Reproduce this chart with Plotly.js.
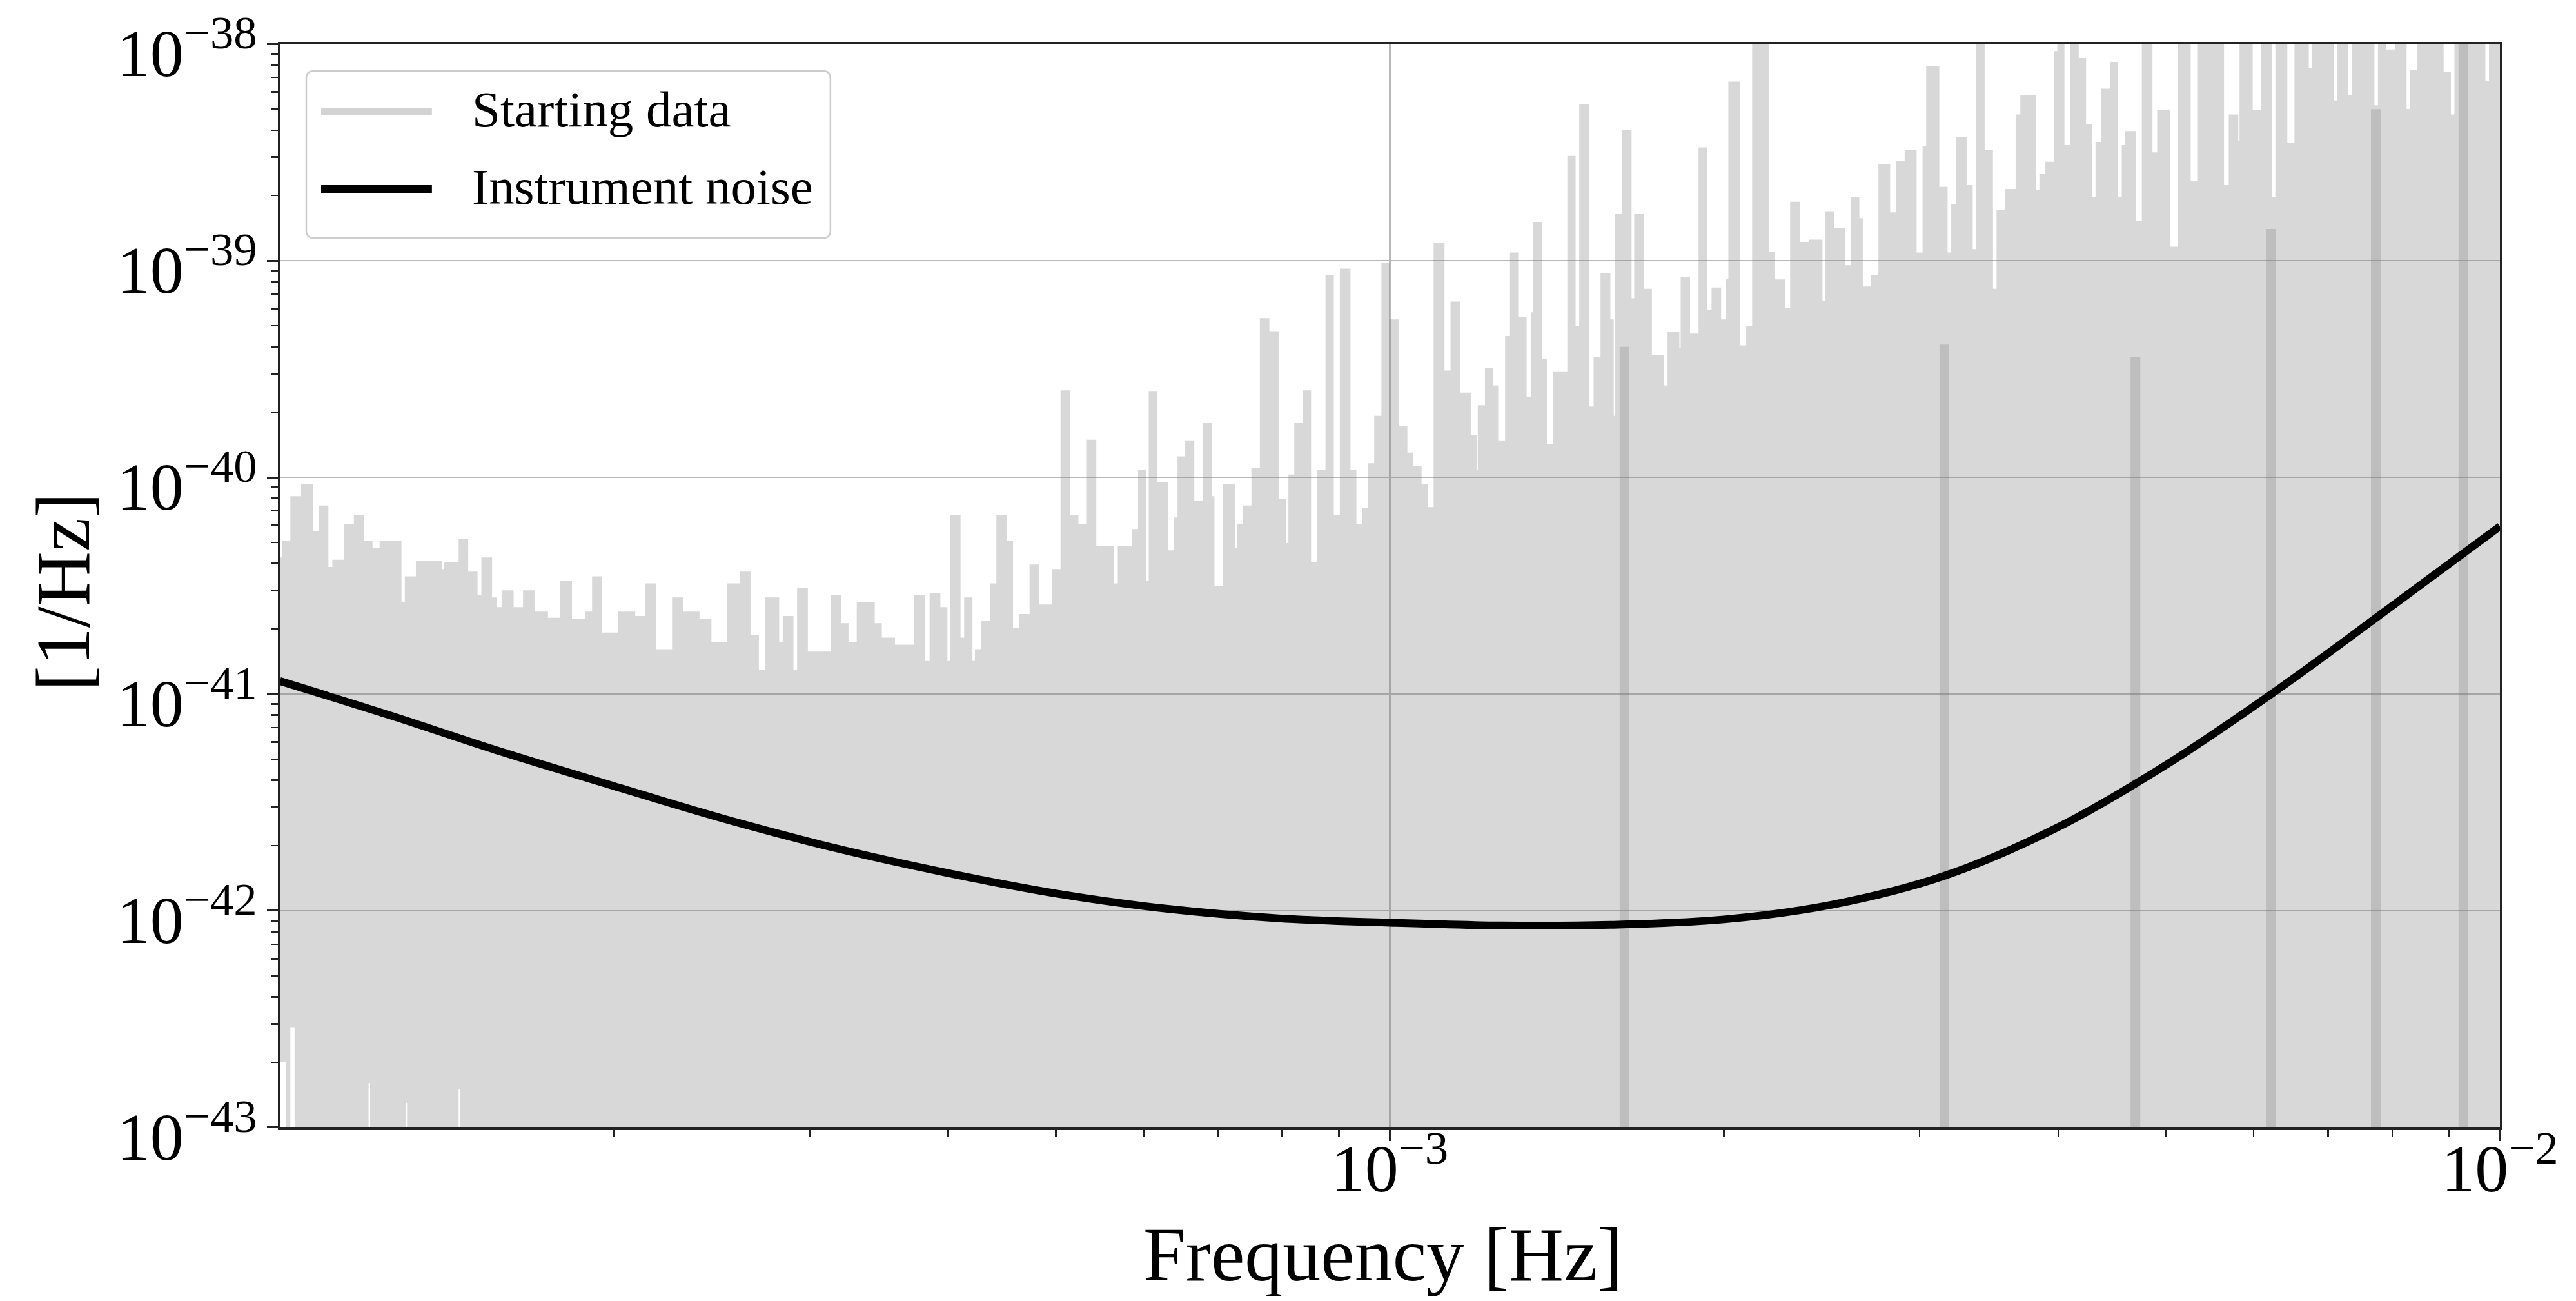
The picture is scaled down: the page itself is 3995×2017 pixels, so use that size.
<!DOCTYPE html>
<html><head><meta charset="utf-8">
<script src="https://cdn.plot.ly/plotly-3.0.1.min.js"></script>
<style>html,body{margin:0;padding:0;background:#fff;} #chart{width:3995px;height:2017px;}</style>
</head><body><div id="chart"></div>
<script>
// ---- Starting data: upper envelope of the periodogram (step plateaus) ----
const starting_freq = [
 1.000e-4,1.005e-4,1.022e-4,1.045e-4,1.071e-4,1.085e-4,1.106e-4,1.115e-4,1.143e-4,1.166e-4,1.191e-4,1.212e-4,1.230e-4,1.287e-4,1.296e-4,1.326e-4,1.400e-4,1.406e-4,1.449e-4,1.478e-4,1.507e-4,1.519e-4,1.553e-4,1.568e-4,1.584e-4,1.624e-4,1.656e-4,1.697e-4,1.744e-4,1.788e-4,1.833e-4,1.883e-4,1.911e-4,1.950e-4,2.018e-4,2.090e-4,2.132e-4,
 2.146e-4,2.184e-4,2.256e-4,2.307e-4,2.388e-4,2.448e-4,2.527e-4,2.596e-4,2.655e-4,2.701e-4,2.735e-4,2.817e-4,2.838e-4,2.902e-4,2.924e-4,2.990e-4,3.134e-4,3.205e-4,3.253e-4,3.309e-4,3.435e-4,3.486e-4,3.582e-4,3.726e-4,3.811e-4,3.849e-4,3.936e-4,3.994e-4,4.014e-4,4.104e-4,4.135e-4,4.207e-4,4.228e-4,4.280e-4,4.366e-4,4.421e-4,4.520e-4,4.576e-4,
 4.631e-4,4.736e-4,4.831e-4,4.964e-4,5.050e-4,5.151e-4,5.241e-4,5.333e-4,5.439e-4,5.645e-4,5.687e-4,5.858e-4,5.931e-4,6.035e-4,6.064e-4,6.171e-4,6.310e-4,6.389e-4,6.437e-4,6.534e-4,6.665e-4,6.781e-4,6.916e-4,6.950e-4,7.073e-4,7.249e-4,7.284e-4,7.375e-4,7.503e-4,7.636e-4,7.788e-4,7.943e-4,8.061e-4,8.102e-4,8.201e-4,8.345e-4,8.492e-4,8.597e-4,8.749e-4,8.902e-4,9.014e-4,9.215e-4,9.329e-4,9.446e-4,9.561e-4,9.681e-4,9.826e-4,
 9.990e-4,1.019e-3,1.037e-3,1.050e-3,1.068e-3,1.082e-3,1.095e-3,1.120e-3,1.134e-3,1.157e-3,1.183e-3,1.197e-3,1.200e-3,1.218e-3,1.239e-3,1.252e-3,1.270e-3,1.283e-3,1.305e-3,1.328e-3,1.341e-3,1.345e-3,1.371e-3,1.385e-3,1.403e-3,1.445e-3,1.470e-3,1.481e-3,1.511e-3,1.526e-3,1.548e-3,1.580e-3,1.591e-3,1.595e-3,1.619e-3,1.651e-3,1.660e-3,1.693e-3,1.722e-3,1.766e-3,1.779e-3,1.823e-3,1.828e-3,1.864e-3,1.897e-3,1.930e-3,1.949e-3,1.988e-3,2.007e-3,2.018e-3,2.068e-3,2.094e-3,2.120e-3,
 2.194e-3,2.222e-3,2.272e-3,2.294e-3,2.340e-3,2.387e-3,2.453e-3,2.465e-3,2.514e-3,2.570e-3,2.602e-3,2.648e-3,2.667e-3,2.714e-3,2.755e-3,2.823e-3,2.859e-3,2.909e-3,2.982e-3,3.019e-3,3.042e-3,3.126e-3,3.180e-3,3.204e-3,3.236e-3,3.309e-3,3.350e-3,3.375e-3,3.434e-3,3.494e-3,3.520e-3,3.581e-3,3.662e-3,3.698e-3,3.819e-3,3.847e-3,3.895e-3,3.963e-3,3.993e-3,4.052e-3,4.103e-3,4.174e-3,4.238e-3,4.290e-3,4.322e-3,4.375e-3,4.452e-3,4.530e-3,4.564e-3,4.597e-3,
 4.699e-3,4.758e-3,4.864e-3,4.912e-3,5.049e-3,5.124e-3,5.265e-3,5.344e-3,5.642e-3,5.698e-3,5.812e-3,5.827e-3,5.988e-3,6.092e-3,6.230e-3,6.276e-3,6.434e-3,6.530e-3,6.727e-3,6.776e-3,7.086e-3,7.138e-3,7.300e-3,7.354e-3,7.708e-3,7.765e-3,7.902e-3,8.040e-3,8.240e-3,8.301e-3,8.427e-3,8.898e-3,9.033e-3,9.100e-3,9.703e-3,9.775e-3,1.000e-2
];
const starting_psd = [
 4.27e-41,5.09e-41,8.18e-41,9.27e-41,5.62e-41,7.41e-41,3.86e-41,4.17e-41,6.07e-41,6.70e-41,5.09e-41,4.72e-41,5.09e-41,2.65e-41,3.49e-41,4.10e-41,3.77e-41,4.06e-41,5.21e-41,3.67e-41,2.86e-41,4.27e-41,2.79e-41,2.52e-41,3.01e-41,2.52e-41,3.01e-41,2.40e-41,2.25e-41,3.33e-41,2.23e-41,2.40e-41,3.49e-41,1.92e-41,2.40e-41,2.29e-41,3.24e-41,
 3.24e-41,1.61e-41,2.79e-41,2.40e-41,2.23e-41,1.73e-41,3.24e-41,3.67e-41,1.87e-41,1.29e-41,2.79e-41,1.73e-41,2.29e-41,1.29e-41,3.08e-41,1.57e-41,2.86e-41,2.12e-41,1.73e-41,2.65e-41,2.12e-41,1.82e-41,1.69e-41,2.86e-41,1.42e-41,2.93e-41,2.52e-41,1.42e-41,6.70e-41,1.82e-41,2.79e-41,1.42e-41,1.61e-41,2.17e-41,3.24e-41,6.70e-41,5.09e-41,2.01e-41,
 2.34e-41,3.96e-41,2.59e-41,3.77e-41,2.52e-40,6.70e-41,6.07e-41,1.49e-40,4.84e-41,3.24e-41,4.84e-41,5.77e-41,1.08e-40,3.33e-41,2.50e-40,9.51e-41,4.60e-41,6.53e-41,1.25e-40,1.48e-40,7.78e-41,1.78e-40,8.18e-41,3.16e-41,9.27e-41,4.72e-41,6.07e-41,7.41e-41,1.10e-40,5.43e-40,4.72e-40,7.98e-41,4.97e-41,1.03e-40,1.78e-40,2.52e-40,4.06e-41,1.08e-40,8.61e-40,6.70e-41,9.18e-40,1.08e-40,6.07e-41,7.23e-41,1.16e-40,1.92e-40,9.75e-40,
 5.35e-40,1.73e-40,1.30e-40,1.13e-40,9.27e-41,7.29e-41,1.21e-39,3.11e-40,6.47e-40,2.46e-40,1.57e-40,1.08e-40,2.15e-40,3.19e-40,2.65e-40,1.48e-40,4.49e-40,1.09e-39,5.48e-40,2.34e-40,5.77e-40,1.51e-39,3.53e-40,1.42e-40,3.08e-40,3.04e-39,4.97e-40,5.27e-39,2.12e-40,3.58e-40,8.73e-40,5.35e-40,1.92e-40,1.65e-39,4.00e-39,6.70e-40,1.65e-39,7.41e-40,3.67e-40,2.65e-40,4.68e-40,3.96e-40,8.39e-40,4.60e-40,3.33e-39,5.92e-40,7.52e-40,5.35e-40,8.26e-40,6.70e-39,4.06e-40,4.97e-40,2.0e-38,
 1.10e-39,8.18e-40,6.07e-40,1.87e-39,1.22e-39,1.25e-39,6.53e-40,1.69e-39,1.42e-39,9.51e-40,1.96e-39,1.57e-39,7.59e-40,8.61e-40,2.79e-39,1.67e-39,2.89e-39,3.24e-39,1.09e-39,3.37e-39,7.87e-39,2.19e-39,1.09e-39,1.82e-39,3.73e-39,2.23e-39,1.13e-39,2.0e-38,3.24e-39,7.41e-40,1.72e-39,2.14e-39,4.72e-39,5.82e-39,2.12e-39,2.52e-39,2.86e-39,9.27e-39,2.0e-38,3.41e-39,2.0e-38,8.61e-39,4.27e-39,1.96e-39,3.53e-39,6.21e-39,8.26e-39,1.96e-39,3.41e-39,3.96e-39,
 1.53e-39,2.0e-38,3.16e-39,4.97e-39,1.16e-39,2.0e-38,2.34e-39,2.0e-38,2.23e-39,4.72e-39,3.58e-39,2.0e-38,4.97e-39,2.0e-38,1.96e-39,2.0e-38,3.49e-39,2.0e-38,7.71e-39,2.0e-38,5.48e-39,2.0e-38,5.82e-39,2.0e-38,5.21e-39,2.0e-38,9.42e-39,2.0e-38,5.01e-39,7.59e-39,2.0e-38,7.41e-39,4.72e-39,2.0e-38,6.76e-39,2.0e-38,2.0e-38
];
// places where the starting data stays above the bottom of the plot (white slivers at the bottom)
const gap_start = [1.000e-4, 1.022e-4, 1.202e-4, 1.298e-4, 1.449e-4];
const gap_end   = [1.012e-4, 1.031e-4, 1.206e-4, 1.302e-4, 1.453e-4];
const gap_top   = [2.0e-43, 2.9e-43, 1.6e-43, 1.3e-43, 1.5e-43];
// darker bands in the starting data (transfer-function nulls)
const null_freq = [1.627e-3, 3.159e-3, 4.695e-3, 6.224e-3, 7.73e-3, 9.27e-3];
const null_top  = [4.0e-40, 4.1e-40, 3.6e-40, 1.4e-39, 5.0e-39, 1.2e-38];
// ---- Instrument noise curve ----
const noise_freq = [1.0e-4,1.26e-4,1.58e-4,2.0e-4,2.51e-4,3.16e-4,3.98e-4,5.01e-4,6.31e-4,7.94e-4,1.0e-3,1.26e-3,1.58e-3,2.0e-3,2.51e-3,3.16e-3,3.98e-3,5.01e-3,6.31e-3,7.94e-3,1.0e-2];
const noise_psd  = [1.148e-41,7.94e-42,5.43e-42,3.76e-42,2.66e-42,1.95e-42,1.50e-42,1.20e-42,1.02e-42,9.23e-43,8.81e-43,8.55e-43,8.61e-43,9.12e-43,1.07e-42,1.45e-42,2.40e-42,4.73e-42,1.05e-41,2.48e-41,5.94e-41];
// ---- axes ----
const x_tick_vals = [1e-3, 1e-2];
const x_tick_text = ['10<sup>−3</sup>', '10<sup>−2</sup>'];
const y_tick_vals = [1e-43, 1e-42, 1e-41, 1e-40, 1e-39, 1e-38];
const y_tick_text = ['10<sup>−43</sup>','10<sup>−42</sup>','10<sup>−41</sup>','10<sup>−40</sup>','10<sup>−39</sup>','10<sup>−38</sup>'];
const x_title = 'Frequency [Hz]';
const y_title = '[1/Hz]';
const legend_labels = ['Starting data', 'Instrument noise'];
const FLOOR = 1e-44;

function minorVals(d0, d1){ const v=[]; for(let d=d0; d<d1; d++){ for(let k=2;k<=9;k++) v.push(k*Math.pow(10,d)); } return v; }

const DATA_FILL = 'rgba(125,125,125,0.3)';
const traces = [];
traces.push({x:[starting_freq[0], starting_freq[starting_freq.length-1]], y:[FLOOR, FLOOR], mode:'lines', line:{width:0, color:'rgba(0,0,0,0)'}, hoverinfo:'skip', showlegend:false});
traces.push({x:starting_freq, y:starting_psd, mode:'lines', line:{width:0, shape:'hv', color:DATA_FILL}, fill:'tonexty', fillcolor:DATA_FILL, name:legend_labels[0], showlegend:false, hoverinfo:'skip'});
const gx=[], gy=[];
gap_start.forEach((s,i)=>{ gx.push(s, gap_end[i], gap_end[i], s, null); gy.push(FLOOR, FLOOR, gap_top[i], gap_top[i], null); });
traces.push({x:gx, y:gy, mode:'lines', fill:'toself', fillcolor:'#ffffff', line:{width:0, color:'#ffffff'}, hoverinfo:'skip', showlegend:false});
const nx=[], ny=[];
null_freq.forEach((f,i)=>{ nx.push(f, f, null); ny.push(FLOOR, null_top[i], null); });
traces.push({x:nx, y:ny, mode:'lines', line:{width:15, color:'rgba(110,110,110,0.25)'}, hoverinfo:'skip', showlegend:false});
traces.push({x:noise_freq, y:noise_psd, mode:'lines', line:{width:12, color:'#000000', shape:'spline', smoothing:1}, name:legend_labels[1], showlegend:false});

const FONT = 'Liberation Serif, DejaVu Serif, serif';
const axisCommon = {
  type:'log', showline:true, linecolor:'#222', linewidth:3.5, mirror:true,
  ticks:'outside', ticklen:17, tickwidth:3, tickcolor:'#222',
  showgrid:true, gridcolor:'#b8b8b8', gridwidth:2.5, zeroline:false,
  tickmode:'array', tickfont:{family:FONT, size:104, color:'#000'}, ticklabeloverflow:'allow'
};
const xaxis = Object.assign({}, axisCommon, {
  range:[-4, -2], tickvals:x_tick_vals, ticktext:x_tick_text, ticklabelstandoff:-46,
  minor:{tickmode:'array', tickvals:minorVals(-4,-2), ticks:'outside', ticklen:11, tickwidth:2.5, tickcolor:'#222', showgrid:false}
});
const yaxis = Object.assign({}, axisCommon, {
  range:[-43.0002, -37.9998], tickvals:y_tick_vals, ticktext:y_tick_text, ticklabelstandoff:-6, ticklabelshift:14,
  minor:{tickmode:'array', tickvals:minorVals(-43,-38), ticks:'outside', ticklen:11, tickwidth:2.5, tickcolor:'#222', showgrid:false}
});

// custom legend (matplotlib-style box)
const L = {x0:0.0119, x1:0.2480, y0:0.8208, y1:0.975, rx:0.0035, ry:0.0071, lx0:0.0186, lx1:0.0685, tx:0.086, rows:[0.9375, 0.8661]};
const boxPath = `M ${L.x0+L.rx},${L.y0} L ${L.x1-L.rx},${L.y0} Q ${L.x1},${L.y0} ${L.x1},${L.y0+L.ry} L ${L.x1},${L.y1-L.ry} Q ${L.x1},${L.y1} ${L.x1-L.rx},${L.y1} L ${L.x0+L.rx},${L.y1} Q ${L.x0},${L.y1} ${L.x0},${L.y1-L.ry} L ${L.x0},${L.y0+L.ry} Q ${L.x0},${L.y0} ${L.x0+L.rx},${L.y0} Z`;
const shapes = [
  {type:'path', xref:'paper', yref:'paper', path:boxPath, fillcolor:'rgba(255,255,255,0.8)', line:{color:'#cccccc', width:2.5}, layer:'above'},
  {type:'line', xref:'paper', yref:'paper', x0:L.lx0, x1:L.lx1, y0:L.rows[0], y1:L.rows[0], line:{color:'#d3d3d3', width:12}, layer:'above'},
  {type:'line', xref:'paper', yref:'paper', x0:L.lx0, x1:L.lx1, y0:L.rows[1], y1:L.rows[1], line:{color:'#000000', width:12}, layer:'above'}
];
const annotations = legend_labels.map((t,i)=>({text:t, xref:'paper', yref:'paper', x:L.tx, y:L.rows[i]+0.002, xanchor:'left', yanchor:'middle', showarrow:false, font:{family:FONT, size:79, color:'#000'}}));
// axis titles
annotations.push({text:x_title, xref:'paper', yref:'paper', x:0.497, y:-0.1173, xanchor:'center', yanchor:'middle', showarrow:false, font:{family:FONT, size:118, color:'#000'}});
annotations.push({text:y_title, xref:'paper', yref:'paper', x:-0.0975, y:0.4946, xanchor:'center', yanchor:'middle', textangle:-90, showarrow:false, font:{family:FONT, size:118, color:'#000'}});

const layout = {
  width:3995, height:2017, margin:{l:434, r:118, t:68, b:269},
  paper_bgcolor:'#ffffff', plot_bgcolor:'#ffffff',
  font:{family:FONT, color:'#000'}, showlegend:false,
  xaxis:xaxis, yaxis:yaxis, shapes:shapes, annotations:annotations
};
Plotly.newPlot('chart', traces, layout, {staticPlot:true, displayModeBar:false});
</script>
</body></html>
